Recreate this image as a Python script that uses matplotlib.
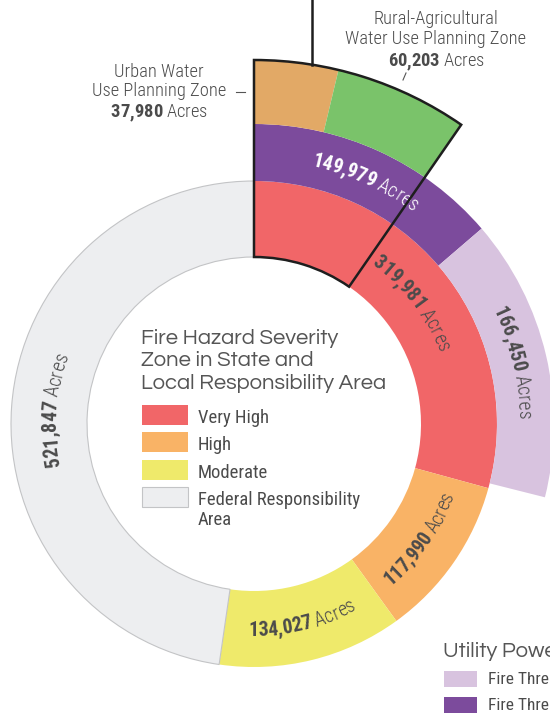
import numpy as np
import matplotlib
matplotlib.use("Agg")
import matplotlib.pyplot as plt
from matplotlib.patches import Wedge, Rectangle
from matplotlib.font_manager import FontProperties, findfont
from matplotlib.ft2font import FT2Font

# fire hazard severity zones (state + local responsibility) and federal land
fire_zones = ["Very High", "High", "Moderate", "Federal Responsibility\nArea"]
fire_acres = [319981, 117990, 134027, 521847]
fire_colors = ["#F16668", "#F9B366", "#EFEA6B", "#EDEEF0"]

# utility power line fire threat districts
utility_tiers = ["Fire Threat District Tier 3", "Fire Threat District Tier 2"]
utility_acres = [149979, 166450]
utility_colors = ["#7C4B9C", "#D8C3DF"]

# water use planning zones
water_zones = ["Urban Water\nUse Planning Zone", "Rural-Agricultural\nWater Use Planning Zone"]
water_acres = [37980, 60203]
water_colors = ["#E2A966", "#7AC36A"]

DPI = 100
W, H = 550, 715
CX, CY = 254, 291
R_IN, R_FIRE, R_UTIL, R_WATER = 167, 243, 300, 364
WATER_SPAN = 34.7          # degrees covered by the water zone ring
COND = "Roboto Condensed"
TEXT = "#4B4B4B"

fig = plt.figure(figsize=(W / DPI, H / DPI), dpi=DPI)
ax = fig.add_axes([0, 0, 1, 1])
ax.set_xlim(0, W)
ax.set_ylim(0, H)
ax.set_aspect("equal")
ax.axis("off")


def polar(angle, r):
    # angle in degrees, clockwise from 12 o'clock
    a = np.radians(angle)
    return CX + r * np.sin(a), CY + r * np.cos(a)


def ring(values, colors, r_in, r_out, deg_per_unit, **kw):
    edges = np.concatenate([[0], np.cumsum(values)]) * deg_per_unit
    for a0, a1, c in zip(edges[:-1], edges[1:], colors):
        ax.add_patch(Wedge((CX, CY), r_out, 90 - a1, 90 - a0, width=r_out - r_in,
                           facecolor=c, **kw))
    return edges


_fonts = {}


def advance(ch, fp):
    path = findfont(fp)
    if path not in _fonts:
        _fonts[path] = FT2Font(path)
    font = _fonts[path]
    font.set_size(fp.get_size_in_points(), DPI)
    return font.load_char(ord(ch)).linearHoriAdvance / 65536


def glyph_list(parts, size):
    out = []
    for txt, weight, color in parts:
        fp = FontProperties(family=COND, weight=weight, size=size)
        for ch in txt:
            out.append((ch, fp, color, advance(ch, fp)))
    return out


def arc_text(parts, angle, r, size=14.2, clockwise=True):
    glyphs = glyph_list(parts, size)
    total = sum(g[3] for g in glyphs)
    cap = 0.711 * size * DPI / 72
    sign = 1 if clockwise else -1
    r_base = r - sign * cap / 2
    pos = -total / 2
    for ch, fp, color, w in glyphs:
        a = angle + sign * np.degrees((pos + w / 2) / r_base)
        x, y = polar(a, r_base)
        rot = -a if clockwise else 180 - a
        ax.text(x, y, ch, fontproperties=fp, color=color, rotation=rot,
                rotation_mode="anchor", ha="center", va="baseline", zorder=6)
        pos += w


def line_text(parts, xc, y, size=13.3):
    glyphs = glyph_list(parts, size)
    x = xc - sum(g[3] for g in glyphs) / 2
    for ch, fp, color, w in glyphs:
        ax.text(x, y, ch, fontproperties=fp, color=color, ha="left", va="baseline")
        x += w


# rings
deg = 360 / sum(fire_acres)
fire_edges = ring(fire_acres, fire_colors, R_IN, R_FIRE, deg, edgecolor="none", zorder=2)
fed0, fed1 = fire_edges[3], fire_edges[4]
ax.add_patch(Wedge((CX, CY), R_FIRE, 90 - fed1, 90 - fed0, width=R_FIRE - R_IN,
                   facecolor="none", edgecolor="#C3C4C6", lw=0.8, zorder=3))
util_edges = ring(utility_acres, utility_colors, R_FIRE, R_UTIL, deg, edgecolor="none", zorder=2)
water_deg = WATER_SPAN / sum(water_acres)
water_edges = ring(water_acres, water_colors, R_UTIL, R_WATER, water_deg, edgecolor="none", zorder=2)

# outline around the water planning zone sector
ax.add_patch(Wedge((CX, CY), R_WATER, 90 - water_edges[-1], 90, width=R_WATER - R_IN,
                   facecolor="none", edgecolor="#1E1E1E", lw=1.8, joinstyle="miter", zorder=7))
lx, ly = polar(9.2, R_WATER)
ax.plot([lx, lx], [ly, H], color="#1E1E1E", lw=1.8, zorder=7)


def fmt(v):
    return f"{v:,}"


mid = lambda e, i: (e[i] + e[i + 1]) / 2
r_fire = (R_IN + R_FIRE) / 2
r_util = (R_FIRE + R_UTIL) / 2

arc_text([(fmt(fire_acres[0]), "bold", TEXT), (" Acres", "light", TEXT)], mid(fire_edges, 0), r_fire)
arc_text([(fmt(fire_acres[1]), "bold", TEXT), (" Acres", "light", TEXT)], mid(fire_edges, 1), r_fire, clockwise=False)
arc_text([(fmt(fire_acres[2]), "bold", TEXT), (" Acres", "light", TEXT)], mid(fire_edges, 2), r_fire, clockwise=False)
arc_text([(fmt(fire_acres[3]), "bold", TEXT), (" Acres", "light", TEXT)], mid(fire_edges, 3), r_fire)
arc_text([(fmt(utility_acres[0]), "bold", "white"), (" Acres", "light", "white")], mid(util_edges, 0), r_util)
arc_text([(fmt(utility_acres[1]), "bold", TEXT), (" Acres", "light", TEXT)], mid(util_edges, 1), r_util)

# water zone callouts
for i, (xc, y_top, gap) in enumerate([(159, H - 77, 18.5), (436, H - 24, 19.5)]):
    l1, l2 = water_zones[i].split("\n")
    fp = FontProperties(family=COND, weight="light", size=13.3)
    ax.text(xc, y_top, l1, fontproperties=fp, color=TEXT, ha="center", va="baseline")
    ax.text(xc, y_top - gap, l2, fontproperties=fp, color=TEXT, ha="center", va="baseline")
    line_text([(fmt(water_acres[i]), "bold", TEXT), (" Acres", "light", TEXT)], xc, y_top - 2 * gap - 3)
ax.plot([236, 245], [H - 92, H - 92], color="#555555", lw=0.8)
ax.plot([403, 406], [H - 80, H - 73], color="#555555", lw=0.8)

# center legend
title_fp = FontProperties(family="Questrial", size=15.8)
for k, t in enumerate(["Fire Hazard Severity", "Zone in State and", "Local Responsibility Area"]):
    ax.text(141, H - 344 - 22.5 * k, t, fontproperties=title_fp, color="#555555", va="baseline")

leg_fp = FontProperties(family=COND, size=13.4)
for k, (name, c) in enumerate(zip(fire_zones, fire_colors)):
    yc = H - 415 - 27.3 * k
    ec = "#C3C4C6" if k == 3 else "none"
    ax.add_patch(Rectangle((142, yc - 10), 46, 20, facecolor=c, edgecolor=ec, lw=0.8))
    for j, part in enumerate(name.split("\n")):
        ax.text(198, yc - 8 - 20.5 * j, part, fontproperties=leg_fp, color=TEXT,
                va="baseline", ha="left")

# utility legend, bottom right
ax.text(443, H - 657, "Utility Power Line Fire Threat Districts", fontproperties=title_fp,
        color="#555555", va="baseline")
leg2_fp = FontProperties(family=COND, size=12.5)
for k, i in enumerate([1, 0]):
    yc = H - 679 - 26 * k
    ax.add_patch(Rectangle((444, yc - 8), 33, 16, facecolor=utility_colors[i], edgecolor="none"))
    ax.text(488, yc, utility_tiers[i], fontproperties=leg2_fp, color=TEXT, va="center")

fig.savefig("out.png", dpi=DPI)
